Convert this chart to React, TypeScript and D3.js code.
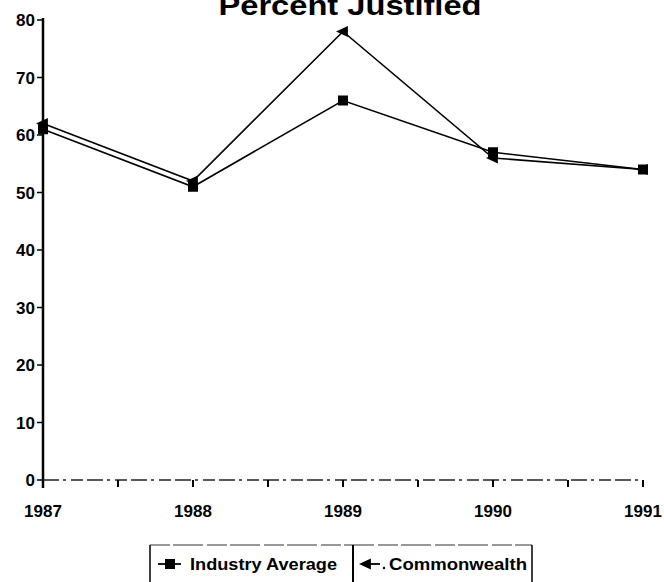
import React from "react";
import * as d3 from "d3";

const years = [1987, 1988, 1989, 1990, 1991];
const industryAverage = [61, 51, 66, 57, 54];
const commonwealth = [62, 52, 78, 56, 54];
const yTicks = [0, 10, 20, 30, 40, 50, 60, 70, 80];
const xMinorTicks = [1987, 1987.5, 1988, 1988.5, 1989, 1989.5, 1990, 1990.5, 1991];
const title = "Percent Justified";
const seriesNames = ["Industry Average", "Commonwealth"];

const W = 664;
const H = 582;
const FONT = "'Liberation Sans', Arial, sans-serif";

export default function App() {
  const x = d3.scaleLinear().domain([1987, 1991]).range([43, 643]);
  const y = d3.scaleLinear().domain([0, 80]).range([480, 20]);
  const line = d3
    .line<number>()
    .x((_, i) => x(years[i]))
    .y((d) => y(d));

  const tri = (cx: number, cy: number, s: number) =>
    `M${cx - s},${cy} L${cx + s * 0.7},${cy - s * 0.8} L${cx + s * 0.7},${cy + s * 0.8} Z`;

  return (
    <svg
      width={W}
      height={H}
      style={{ position: "absolute", left: 0, top: 0, background: "#fff" }}
      fontFamily={FONT}
    >
      <rect x={0} y={0} width={W} height={H} fill="#fff" />
      {/* title */}
      <text
        x={350}
        y={15}
        textAnchor="middle"
        fontSize={28}
        fontWeight="bold"
        textLength={263}
        lengthAdjust="spacingAndGlyphs"
      >
        {title}
      </text>

      {/* y axis */}
      <line x1={x(1987)} x2={x(1987)} y1={y(80) - 2} y2={y(0) + 8} stroke="#000" strokeWidth={2.5} />
      {yTicks.map((t) => (
        <g key={t}>
          <line x1={x(1987) - 6} x2={x(1987)} y1={y(t)} y2={y(t)} stroke="#000" strokeWidth={1.5} />
          <text x={x(1987) - 8} y={y(t) + 6} textAnchor="end" fontSize={17} fontWeight="bold">
            {t}
          </text>
        </g>
      ))}

      {/* x axis */}
      <line
        x1={x(1987)}
        x2={x(1991)}
        y1={y(0)}
        y2={y(0)}
        stroke="#222"
        strokeWidth={1.5}
        strokeDasharray="16,4,3,5,12,4"
      />
      {xMinorTicks.map((t) => (
        <line key={t} x1={x(t)} x2={x(t)} y1={y(0)} y2={y(0) + 7} stroke="#000" strokeWidth={2} />
      ))}
      {years.map((yr) => (
        <text key={yr} x={x(yr)} y={517} textAnchor="middle" fontSize={17} fontWeight="bold">
          {yr}
        </text>
      ))}

      {/* series */}
      <path d={line(industryAverage) || ""} fill="none" stroke="#000" strokeWidth={1.6} />
      <path d={line(commonwealth) || ""} fill="none" stroke="#000" strokeWidth={1.6} />
      {industryAverage.map((v, i) => (
        <rect key={"s" + i} x={x(years[i]) - 5} y={y(v) - 5} width={10} height={10} fill="#000" />
      ))}
      {commonwealth.map((v, i) => (
        <path key={"t" + i} d={tri(x(years[i]), y(v), 7)} fill="#000" />
      ))}

      {/* legend */}
      <line x1={150} x2={532} y1={545} y2={545} stroke="#333" strokeWidth={1.2} strokeDasharray="20,3,30,4" />
      <line x1={150} x2={150} y1={545} y2={H} stroke="#000" strokeWidth={1.5} />
      <line x1={353} x2={353} y1={545} y2={H} stroke="#000" strokeWidth={2} />
      <line x1={532} x2={532} y1={545} y2={H} stroke="#000" strokeWidth={1.5} />
      <line x1={158} x2={181} y1={564} y2={564} stroke="#000" strokeWidth={1.8} />
      <rect x={165} y={559} width={10} height={10} fill="#000" />
      <text x={190} y={570} fontSize={17} fontWeight="bold" textLength={147} lengthAdjust="spacingAndGlyphs">
        {seriesNames[0]}
      </text>
      <path d={tri(366, 564, 7)} fill="#000" />
      <line x1={366} x2={380} y1={564} y2={564} stroke="#000" strokeWidth={1.8} />
      <circle cx={384} cy={568} r={1.2} fill="#000" />
      <text x={389} y={570} fontSize={17} fontWeight="bold" textLength={138} lengthAdjust="spacingAndGlyphs">
        {seriesNames[1]}
      </text>
    </svg>
  );
}
